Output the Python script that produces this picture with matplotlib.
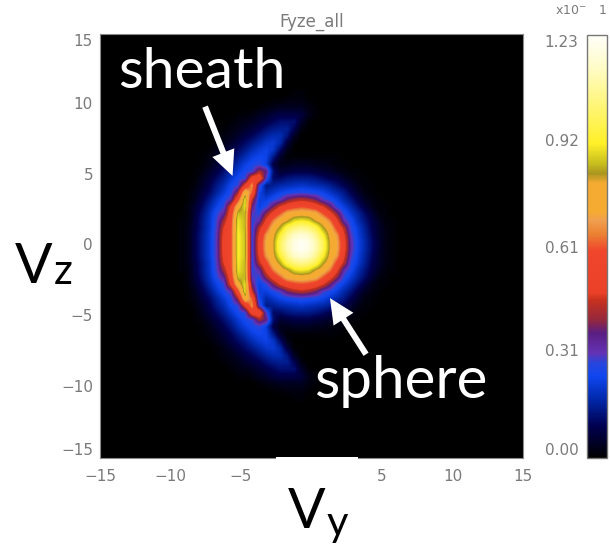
import matplotlib
matplotlib.use('Agg')
import matplotlib.pyplot as plt
import numpy as np
from matplotlib.colors import LinearSegmentedColormap
from matplotlib.patches import Rectangle

W, H = 610, 546
GREY = '#7a7a7a'

# cell centres of the table below, Vy -9.25 .. 6.25 and Vz 0.25 .. 10.75
vy_first, vy_last = -9.25, 6.25
vz_last = 10.75

# Fyze_all, in units of 0.01 on the colour bar, upper half
# one row per Vz starting at 0.25, lower half is the mirror of it
f_rows = [
	[1,3,9,15,21,31,52,59,92,86,27, 52,71,81,99,111,119, 122,119,111,99,81,71,52,32,23,17,11,6,2,1,0],
	[1,3,9,15,21,31,51,59,92,86,27, 49,68,79,93,106,114, 116,114,106,93,79,68,49,30,22,16,10,5,2,1,0],
	[1,3,8,14,20,30,48,59,91,85,26, 44,58,75,84,97,103, 106,103,97,84,75,58,44,27,21,15,9,5,2,1,0],
	[1,2,8,14,20,29,42,58,90,85,27, 32,50,65,76,81,89, 91,89,81,76,65,50,32,25,18,13,8,4,1,1,0],
	[0,2,7,13,19,27,34,55,86,85,30, 27,40,52,62,73,76, 77,76,73,62,52,40,27,21,16,11,6,2,1,0,0],
	[0,2,6,11,17,23,28,50,76,90,36, 22,27,38,48,54,58, 60,58,54,48,38,27,22,17,12,7,3,1,1,0,0],
	[0,1,4,9,14,20,25,32,58,90,45, 22,22,26,30,38,42, 44,42,38,30,26,22,17,13,8,4,2,1,0,0,0],
	[0,1,3,7,11,16,21,26,42,78,62, 24,17,20,23,25,26, 27,26,25,23,20,17,14,9,5,2,1,0,0,0,0],
	[0,0,2,5,9,14,18,24,28,50,68, 30,14,15,17,18,19, 20,19,18,17,15,12,9,6,3,1,1,0,0,0,0],
	[0,0,1,4,7,11,15,20,25,28,55, 58,30,11,11,13,14, 14,14,13,11,9,8,5,3,1,1,0,0,0,0,0],
	[0,0,1,2,5,8,12,16,21,25,28, 42,36,12,6,7,8, 8,8,7,6,5,3,2,1,1,0,0,0,0,0,0],
	[0,0,0,1,3,6,9,13,18,22,25, 27,22,8,3,3,4, 4,4,3,3,2,1,1,0,0,0,0,0,0,0,0],
	[0,0,0,1,2,4,7,10,14,18,22, 24,23,14,5,1,1, 1,1,1,1,1,1,0,0,0,0,0,0,0,0,0],
	[0,0,0,0,1,3,5,8,11,14,18, 21,23,20,11,3,0, 0,0,0,0,0,0,0,0,0,0,0,0,0,0,0],
	[0,0,0,0,0,1,3,5,8,11,14, 17,20,21,17,7,1, 0,0,0,0,0,0,0,0,0,0,0,0,0,0,0],
	[0,0,0,0,0,1,2,3,5,8,10, 13,16,18,18,13,4, 0,0,0,0,0,0,0,0,0,0,0,0,0,0,0],
	[0,0,0,0,0,0,1,2,3,5,7, 9,12,14,15,15,9, 2,0,0,0,0,0,0,0,0,0,0,0,0,0,0],
	[0,0,0,0,0,0,0,1,2,3,4, 6,8,10,12,12,12, 5,1,0,0,0,0,0,0,0,0,0,0,0,0,0],
	[0,0,0,0,0,0,0,0,1,1,2, 4,5,7,8,8,8, 7,3,1,0,0,0,0,0,0,0,0,0,0,0,0],
	[0,0,0,0,0,0,0,0,0,0,0, 1,2,3,4,4,4, 4,2,1,0,0,0,0,0,0,0,0,0,0,0,0],
	[0,0,0,0,0,0,0,0,0,0,0, 0,0,1,1,2,2, 2,1,0,0,0,0,0,0,0,0,0,0,0,0,0],
	[0,0,0,0,0,0,0,0,0,0,0, 0,0,0,0,0,1, 1,0,0,0,0,0,0,0,0,0,0,0,0,0,0],
]

f_max = 1.23
x_ticks = [-15, -10, -5, 5, 10, 15]
y_ticks = [-15, -10, -5, 0, 5, 10, 15]
bar_ticks = [0.00, 0.31, 0.61, 0.92, 1.23]

# colour bar stops, position from bottom and colour
stops = [(0.0, (0, 0, 0)), (0.075, (0, 0, 80)), (0.138, (0, 40, 170)), (0.193, (15, 70, 240)),
	(0.224, (40, 70, 220)), (0.248, (100, 50, 180)), (0.295, (90, 30, 130)), (0.327, (150, 40, 60)),
	(0.374, (200, 50, 30)), (0.39, (235, 65, 40)), (0.49, (240, 70, 45)), (0.53, (235, 130, 50)),
	(0.563, (240, 160, 80)), (0.58, (245, 170, 50)), (0.65, (245, 170, 50)), (0.673, (170, 150, 30)),
	(0.697, (200, 190, 30)), (0.744, (255, 240, 40)), (0.823, (255, 245, 110)), (0.925, (255, 252, 200)),
	(1.0, (255, 255, 250))]
cmap = LinearSegmentedColormap.from_list('idl', [(p, tuple(c / 255 for c in rgb)) for p, rgb in stops], N=512)

def box(left, top, right, bottom):
	return [left / W, 1 - bottom / H, (right - left) / W, (bottom - top) / H]

def put(x, y, s, **kw):
	return fig.text(x / W, 1 - y / H, s, **kw)

fig = plt.figure(figsize=(W / 100, H / 100), dpi=100, facecolor='white')
ax = fig.add_axes(box(100, 34, 523, 458), facecolor='black')

upper = np.array(f_rows) / 100
cells = np.vstack([upper[::-1], upper])
step = 0.5
im = ax.imshow(cells, origin='lower', cmap=cmap, vmin=0, vmax=f_max, interpolation='bilinear',
	extent=[vy_first - step / 2, vy_last + step / 2, -vz_last - step / 2, vz_last + step / 2], aspect='auto')
ax.set_xlim(-15, 15)
ax.set_ylim(-15, 15)
ax.set_xticks(x_ticks)
ax.set_yticks(y_ticks)
ax.tick_params(length=0, labelsize=11, labelcolor=GREY)
ax.tick_params(axis='y', pad=5)
ax.tick_params(axis='x', pad=8)
for lab, v in zip(ax.get_yticklabels(), y_ticks):
	lab.set_va('top' if v == 15 else 'bottom' if v == -15 else 'center')
for s in ax.spines.values():
	s.set_color('#8a8a8a')
	s.set_linewidth(0.8)
ax.set_title('Fyze_all', fontsize=12, color=GREY, pad=5)

cax = fig.add_axes(box(587, 35, 607, 458))
cb = fig.colorbar(im, cax=cax)
cb.set_ticks(bar_ticks, labels=['%.2f' % v for v in bar_ticks])
cax.yaxis.set_ticks_position('left')
cax.tick_params(length=0, labelsize=11, labelcolor=GREY, pad=6)
for lab, v in zip(cax.get_yticklabels(), bar_ticks):
	lab.set_va('top' if v == f_max else 'bottom' if v == 0 else 'center')
cb.outline.set_edgecolor('#777777')
cb.outline.set_linewidth(1.0)

put(571, 10, 'x10$^{-}$', fontsize=9, color=GREY, ha='center', va='center')
put(603, 10, '1', fontsize=9, color=GREY, ha='center', va='center')

# white slip over the axis where the Vy label was pasted on
fig.add_artist(Rectangle((276 / W, 1 - 463 / H), 82 / W, 6 / H, transform=fig.transFigure,
	facecolor='white', edgecolor='none', zorder=2))

big = dict(family='Lato', zorder=5)
put(202, 88, 'sheath', fontsize=41, color='white', ha='center', va='baseline', **big)
put(401, 398, 'sphere', fontsize=42, color='white', ha='center', va='baseline', **big)
put(15, 283, 'V', fontsize=40, color='black', ha='left', va='baseline', **big)
put(54, 284, 'z', fontsize=30, color='black', ha='left', va='baseline', **big)
put(288, 528, 'V', fontsize=40, color='black', ha='left', va='baseline', **big)
put(327, 536, 'y', fontsize=30, color='black', ha='left', va='baseline', **big)

arrow = dict(facecolor='white', edgecolor='none', width=4.3, headwidth=17, headlength=18, shrink=0)
ax.annotate('', xy=(-5.6, 4.96), xytext=(-7.55, 9.86), arrowprops=arrow, annotation_clip=False)
ax.annotate('', xy=(1.31, -3.69), xytext=(3.87, -7.66), arrowprops=arrow, annotation_clip=False)

fig.savefig('out.png', dpi=100)
